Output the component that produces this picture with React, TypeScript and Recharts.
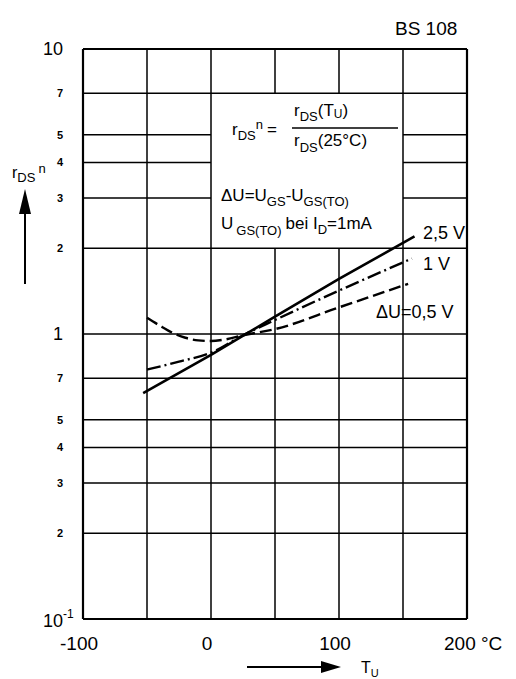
import React from "react";
import { LineChart, Line, XAxis, YAxis, ReferenceLine } from "recharts";

// Temperature T_U (°C) and normalized r_DS n for each ΔU curve
const solidT = [-53, 0, 50, 100, 159];
const solidV = [0.62, 0.845, 1.15, 1.56, 2.2];
const dashDotT = [-50, -25, 0, 25, 50, 100, 157];
const dashDotV = [0.75, 0.8, 0.86, 0.99, 1.12, 1.42, 1.84];
const dashedT = [-50, -40, -30, -20, -10, 0, 10, 25, 50, 100, 154];
const dashedV = [1.14, 1.07, 1.01, 0.97, 0.95, 0.945, 0.955, 0.99, 1.04, 1.24, 1.5];

const xTicks = [-100, 0, 100, 200];
const xTickLabels = ["-100", "0", "100", "200 °C"];
const yTicks = [0.1, 0.2, 0.3, 0.4, 0.5, 0.7, 1, 2, 3, 4, 5, 7, 10];
const yTickLabels = ["10", "2", "3", "4", "5", "7", "1", "2", "3", "4", "5", "7", "10"];
const bigYTicks = [0.1, 1, 10];

const gridX = [-50, 0, 50, 100, 150];
const gridY = [0.2, 0.3, 0.4, 0.5, 0.7, 1, 2, 3, 4, 5, 7];
// text box region (gridlines hidden inside)
const boxX = [0, 150];
const boxY = [2, 7];
const xDomain = [-100, 200];
const yDomain = [0.1, 10];

const toData = (t: number[], v: number[]) => t.map((x, i) => ({ t: x, v: v[i] }));
const solidData = toData(solidT, solidV);
const dashDotData = toData(dashDotT, dashDotV);
const dashedData = toData(dashedT, dashedV);

const FONT = "'Liberation Sans', Arial, sans-serif";

const YTick = (props: any) => {
  const { x, y, payload } = props;
  const idx = yTicks.indexOf(payload.value);
  const label = yTickLabels[idx];
  if (payload.value === 0.1) {
    return (
      <text x={x - 40} y={y + 8} textAnchor="start" fontFamily={FONT} fontSize={18} fill="#000">
        10<tspan fontSize={12} dy={-9}>-1</tspan>
      </text>
    );
  }
  const big = bigYTicks.includes(payload.value);
  return (
    <text
      x={x - 20}
      y={y + (big ? 6 : 4)}
      textAnchor="end"
      fontFamily={FONT}
      fontSize={big ? 18 : 11}
      fontWeight={big ? 400 : 700}
      fill="#000"
    >
      {label}
    </text>
  );
};

const XTick = (props: any) => {
  const { x, y, payload } = props;
  const idx = xTicks.indexOf(payload.value);
  const label = xTickLabels[idx];
  const isLast = idx === xTicks.length - 1;
  return (
    <text
      x={isLast ? x - 23 : x - 4}
      y={y + 31}
      textAnchor={isLast ? "start" : "middle"}
      fontFamily={FONT}
      fontSize={19}
      fill="#000"
    >
      {label}
    </text>
  );
};

const gridLines = () => {
  const els: React.ReactNode[] = [];
  gridY.forEach((v) => {
    const inBox = v > boxY[0] && v < boxY[1];
    if (inBox) {
      els.push(
        <ReferenceLine key={`hy1-${v}`} segment={[{ x: xDomain[0], y: v }, { x: boxX[0], y: v }]} stroke="#000" strokeWidth={1.5} />
      );
      els.push(
        <ReferenceLine key={`hy2-${v}`} segment={[{ x: boxX[1], y: v }, { x: xDomain[1], y: v }]} stroke="#000" strokeWidth={1.5} />
      );
    } else {
      els.push(<ReferenceLine key={`hy-${v}`} y={v} stroke="#000" strokeWidth={1.5} />);
    }
  });
  gridX.forEach((t) => {
    const inBox = t > boxX[0] && t < boxX[1];
    if (inBox) {
      els.push(
        <ReferenceLine key={`vx1-${t}`} segment={[{ x: t, y: yDomain[0] }, { x: t, y: boxY[0] }]} stroke="#000" strokeWidth={1.5} />
      );
      els.push(
        <ReferenceLine key={`vx2-${t}`} segment={[{ x: t, y: boxY[1] }, { x: t, y: yDomain[1] }]} stroke="#000" strokeWidth={1.5} />
      );
    } else {
      els.push(<ReferenceLine key={`vx-${t}`} x={t} stroke="#000" strokeWidth={1.5} />);
    }
  });
  return els;
};

const Overlay = () => (
  <svg
    width={516}
    height={679}
    style={{ position: "absolute", left: 0, top: 0, pointerEvents: "none" }}
    fontFamily={FONT}
  >
    <text x={395} y={35} fontSize={19} fill="#000">BS 108</text>

    {/* y-axis label */}
    <text x={12} y={178} fontSize={16} fill="#000">
      r<tspan fontSize={13} dy={4}>DS</tspan>
      <tspan fontSize={13} dy={-9} dx={3}>n</tspan>
    </text>
    <line x1={25} y1={284} x2={25} y2={208} stroke="#000" strokeWidth={2} />
    <polygon points="25,189 19,214 31,214" fill="#000" />

    {/* x-axis label */}
    <line x1={247} y1={667} x2={325} y2={667} stroke="#000" strokeWidth={2} />
    <polygon points="341,667 321,661 321,673" fill="#000" />
    <text x={361} y={673} fontSize={16} fill="#000">
      T<tspan fontSize={11} dy={4}>U</tspan>
    </text>

    {/* formula box */}
    <text x={232} y={135} fontSize={17} fill="#000">
      r<tspan fontSize={13} dy={5}>DS</tspan>
      <tspan fontSize={13} dy={-11}>n</tspan>
      <tspan dy={6} dx={4}>=</tspan>
    </text>
    <line x1={292} y1={128} x2={398} y2={128} stroke="#000" strokeWidth={1.5} />
    <text x={294} y={116} fontSize={17} fill="#000">
      r<tspan fontSize={13} dy={5}>DS</tspan>
      <tspan dy={-5}>(T</tspan>
      <tspan fontSize={12} dy={2}>U</tspan>
      <tspan dy={-2}>)</tspan>
    </text>
    <text x={294} y={146} fontSize={17} fill="#000">
      r<tspan fontSize={13} dy={6}>DS</tspan>
      <tspan dy={-6}>(25°C)</tspan>
    </text>
    <text x={221} y={201} fontSize={17} fill="#000">
      ΔU=U<tspan fontSize={13} dy={5}>GS</tspan>
      <tspan dy={-5}>-U</tspan>
      <tspan fontSize={13} dy={5}>GS(TO)</tspan>
    </text>
    <text x={221} y={229} fontSize={17} fill="#000">
      U<tspan fontSize={13} dy={6} dx={3}>GS(TO)</tspan>
      <tspan dy={-6} dx={4}>bei I</tspan>
      <tspan fontSize={13} dy={5}>D</tspan>
      <tspan dy={-5}>=1mA</tspan>
    </text>

    {/* curve labels */}
    <text x={423} y={239} fontSize={18} fill="#000">2,5 V</text>
    <text x={423} y={270} fontSize={18} fill="#000">1 V</text>
    <text x={376} y={318} fontSize={18} fill="#000">ΔU=0,5 V</text>
  </svg>
);

export default function App() {
  return (
    <div style={{ position: "absolute", left: 0, top: 0, width: 516, height: 679, background: "#fff" }}>
      <LineChart
        width={516}
        height={679}
        margin={{ top: 49, left: 82, right: 49, bottom: 59 }}
      >
        <XAxis
          type="number"
          dataKey="t"
          domain={xDomain}
          ticks={xTicks}
          tick={<XTick />}
          tickLine={false}
          tickSize={0}
          tickMargin={0}
          axisLine={false}
          height={1}
          allowDataOverflow
          interval={0}
        />
        <YAxis
          type="number"
          dataKey="v"
          scale="log"
          domain={yDomain}
          ticks={yTicks}
          tick={<YTick />}
          tickLine={false}
          tickSize={0}
          tickMargin={0}
          axisLine={false}
          width={1}
          allowDataOverflow
          interval={0}
        />
        {gridLines()}
        <ReferenceLine x={xDomain[0]} stroke="#000" strokeWidth={2.2} />
        <ReferenceLine x={xDomain[1]} stroke="#000" strokeWidth={2.2} />
        <ReferenceLine y={yDomain[0]} stroke="#000" strokeWidth={2.2} />
        <ReferenceLine y={yDomain[1]} stroke="#000" strokeWidth={2.2} />
        <Line data={solidData} dataKey="v" type="linear" stroke="#000" strokeWidth={2.6} dot={false} isAnimationActive={false} />
        <Line data={dashDotData} dataKey="v" type="monotone" stroke="#000" strokeWidth={2.4} strokeDasharray="14 4 2 4" dot={false} isAnimationActive={false} />
        <Line data={dashedData} dataKey="v" type="monotone" stroke="#000" strokeWidth={2.4} strokeDasharray="12 5" dot={false} isAnimationActive={false} />
      </LineChart>
      <Overlay />
    </div>
  );
}
